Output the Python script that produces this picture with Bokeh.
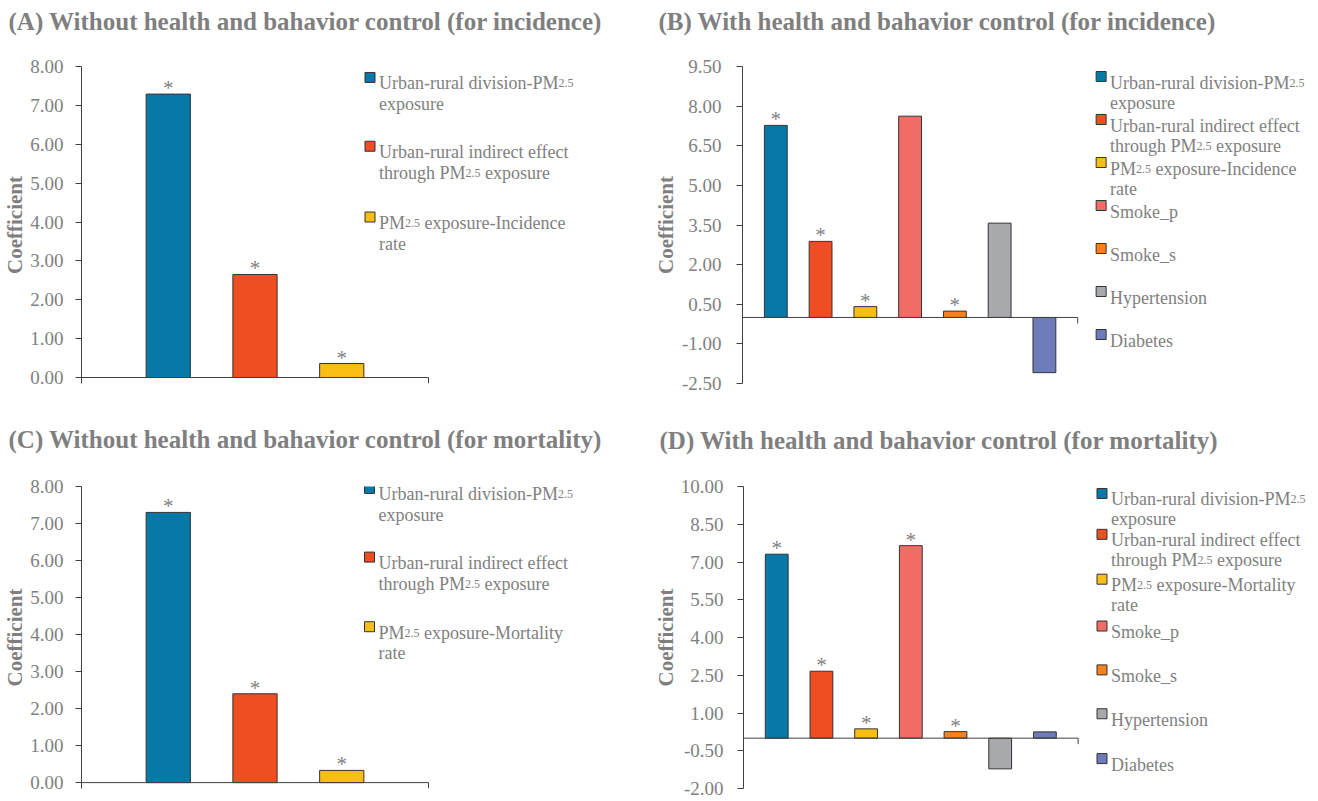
import re
from bokeh.plotting import figure
from bokeh.layouts import column, row
from bokeh.models import FixedTicker, PrintfTickFormatter, ColumnDataSource, Title
from bokeh.embed import file_html
from bokeh.resources import INLINE
from bokeh.core.properties import value

# ---------------- data ----------------
titles = [
    "(A) Without health and bahavior control (for incidence)",
    "(B) With health and bahavior control (for incidence)",
    "(C) Without health and bahavior control (for mortality)",
    "(D) With health and bahavior control (for mortality)",
]

vals_A = [7.29, 2.65, 0.36]
sig_A = [True, True, True]
vals_B = [7.27, 2.88, 0.41, 7.62, 0.24, 3.57, -2.09]
sig_B = [True, True, True, False, True, False, False]
vals_C = [7.30, 2.40, 0.33]
sig_C = [True, True, True]
vals_D = [7.31, 2.66, 0.37, 7.65, 0.26, -1.22, 0.25]
sig_D = [True, True, True, True, True, False, False]

ticks_A = [0, 1, 2, 3, 4, 5, 6, 7, 8]
ticks_B = [-2.5, -1.0, 0.5, 2.0, 3.5, 5.0, 6.5, 8.0, 9.5]
ticks_C = [0, 1, 2, 3, 4, 5, 6, 7, 8]
ticks_D = [-2.0, -0.5, 1.0, 2.5, 4.0, 5.5, 7.0, 8.5, 10.0]

# legend labels ({...} = small "2.5" of PM2.5)
legend_inc = [
    ["Urban-rural division-PM{2.5}", "exposure"],
    ["Urban-rural indirect effect", "through PM{2.5} exposure"],
    ["PM{2.5} exposure-Incidence", "rate"],
    ["Smoke_p"], ["Smoke_s"], ["Hypertension"], ["Diabetes"],
]
legend_mort = [
    ["Urban-rural division-PM{2.5}", "exposure"],
    ["Urban-rural indirect effect", "through PM{2.5} exposure"],
    ["PM{2.5} exposure-Mortality", "rate"],
    ["Smoke_p"], ["Smoke_s"], ["Hypertension"], ["Diabetes"],
]

colors = ["#0779A7", "#EF4E23", "#F9BE14", "#F16C65", "#F5821F", "#A7A9AC", "#6E7BBB"]

# ---------------- styles ----------------
FONT = "Liberation Serif"
GRAY = "#7F7F7F"
AXC = "#404040"
EDGE = "#333333"
FS = 18
TICK_FS = 19
SMALL = 12

TW = {'U': 722, 'r': 333, 'b': 500, 'a': 444, 'n': 500, '-': 333, 'u': 500, 'l': 278,
      ' ': 250, 'd': 500, 'i': 278, 'v': 500, 's': 389, 'o': 500, 'P': 556, 'M': 889,
      't': 278, 'h': 500, 'g': 500, '2': 500, '.': 250, '5': 500, 'e': 444, 'c': 444,
      'f': 333, 'x': 500, 'p': 500}


def tw(s, size):
    return sum(TW.get(c, 500) for c in s) * size / 1000.0


def build(title, vals, sig, ticks, legend, g):
    W, H, fl, ft, fb0, ext, ppx, edge, y_lo, y_hi = (
        g["W"], g["H"], g["fl"], g["ft"], g["fb0"], g["ext"], g["ppx"], g["edge"], g["ylo"], g["yhi"])
    n = len(vals)
    xs = list(range(1, n + 1))
    x_lo = 1 - edge
    x_hi = n + edge
    x_end = x_lo + (W - fl) / ppx
    upp = (y_hi - y_lo) / (fb0 - ft)
    y_start = y_lo - ext * upp

    def dx(px):
        return x_lo + (px - fl) / ppx

    def dy(py):
        return y_hi - (py - ft) * upp

    p = figure(width=W, height=H, x_range=(x_lo, x_end), y_range=(y_start, y_hi),
               x_axis_location=None, toolbar_location=None,
               output_backend="svg", min_border_left=fl, min_border_right=0,
               min_border_top=ft, min_border_bottom=H - fb0 - ext,
               outline_line_color=None, background_fill_color="white",
               border_fill_color="white")
    p.grid.grid_line_color = None

    ax = p.yaxis[0]
    ax.ticker = FixedTicker(ticks=ticks, minor_ticks=[])
    ax.formatter = PrintfTickFormatter(format="%.2f")
    ax.major_tick_out = 6
    ax.major_tick_in = 0
    ax.minor_tick_line_color = None
    ax.axis_line_color = AXC
    ax.axis_line_width = 1
    ax.major_tick_line_color = AXC
    ax.major_label_text_font = FONT
    ax.major_label_text_font_size = f"{TICK_FS}px"
    ax.major_label_text_color = GRAY
    ax.major_label_standoff = g["lstand"]
    ax.axis_label = "Coefficient"
    ax.axis_label_text_font = FONT
    ax.axis_label_text_font_size = "21px"
    ax.axis_label_text_font_style = "bold"
    ax.axis_label_text_color = GRAY
    ax.axis_label_standoff = g["astand"]

    # spacer between frame and title, then the panel title above it
    p.add_layout(Title(text=" ", text_font_size="10px", standoff=g["gap"]), "above")
    p.add_layout(Title(text=title, text_font=FONT, text_font_size="25px",
                       text_font_style="bold", text_color=GRAY, align="left",
                       vertical_align="top", standoff=0, offset=g["tx"] - fl), "above")

    src = ColumnDataSource(dict(x=xs, top=vals, color=colors[:n]))
    p.vbar(x="x", top="top", bottom=0, width=0.51, fill_color="color",
           line_color=EDGE, line_width=1, source=src)

    # category axis line at zero with end tick
    p.segment(x0=[x_lo], y0=[0], x1=[x_hi], y1=[0], line_color=AXC, line_width=1)
    p.segment(x0=[x_hi], y0=[0], x1=[x_hi], y1=[-6 * upp], line_color=AXC, line_width=1)

    # significance asterisks
    sx = [x for x, s in zip(xs, sig) if s]
    sy = [v for v, s in zip(vals, sig) if s]
    p.text(x=sx, y=sy, text=["*"] * len(sx), text_font=value(FONT),
           text_font_size="21px", text_color=GRAY, text_align="center",
           text_baseline="alphabetic", y_offset=-6)

    # legend
    lx = g["lx"]
    for k in range(n):
        cy = g["ly"][k]
        p.rect(x=[dx(lx)], y=[dy(cy)], width=10, height=10, width_units="screen",
               height_units="screen", fill_color=colors[k], line_color=EDGE, line_width=1)
        for j, line in enumerate(legend[k]):
            base = cy + j * g["ldy"] + 6
            parts = re.split(r"\{([^}]*)\}", line)
            off = 0.0
            for idx, seg in enumerate(parts):
                if seg == "":
                    continue
                size = SMALL if idx % 2 == 1 else FS
                stripped = seg.lstrip(" ")
                off += tw(seg[:len(seg) - len(stripped)], size)
                p.text(x=[dx(lx + 9)], y=[dy(base)], text=[stripped], x_offset=off,
                       text_font=value(FONT), text_font_size=f"{size}px",
                       text_color=GRAY, text_align="left", text_baseline="alphabetic")
                off += tw(stripped, size)
    return p


geo_A = dict(W=650, H=420, fl=81, ft=66, fb0=378, ext=6, ppx=86.75, edge=1.0, ylo=0, yhi=8,
             lstand=12, astand=0, tx=8, gap=17, lx=369.5, ly=[77, 146, 217], ldy=21)
geo_B = dict(W=667, H=420, fl=89, ft=66, fb0=383, ext=0, ppx=45.0, edge=0.744, ylo=-2.5, yhi=9.5,
             lstand=15, astand=1, tx=5, gap=17, lx=449.5,
             ly=[76, 119, 162, 205, 248, 291, 334], ldy=20.5)
geo_C = dict(W=650, H=380, fl=81, ft=66, fb0=368, ext=6, ppx=86.75, edge=1.0, ylo=0, yhi=8,
             lstand=12, astand=0, tx=8, gap=19, lx=369, ly=[68, 138, 209], ldy=21)
geo_D = dict(W=667, H=380, fl=89, ft=65, fb0=368, ext=0, ppx=45.0, edge=0.744, ylo=-2.0, yhi=10.0,
             lstand=14, astand=0, tx=5, gap=18, lx=450,
             ly=[72, 113, 158, 205, 249, 293, 338], ldy=20)

pA = build(titles[0], vals_A, sig_A, ticks_A, legend_inc, geo_A)
pB = build(titles[1], vals_B, sig_B, ticks_B, legend_inc, geo_B)
pC = build(titles[2], vals_C, sig_C, ticks_C, legend_mort, geo_C)
pD = build(titles[3], vals_D, sig_D, ticks_D, legend_mort, geo_D)

layout = column(row(pA, pB), row(pC, pD))
open("out.html", "w").write(file_html(layout, INLINE))
